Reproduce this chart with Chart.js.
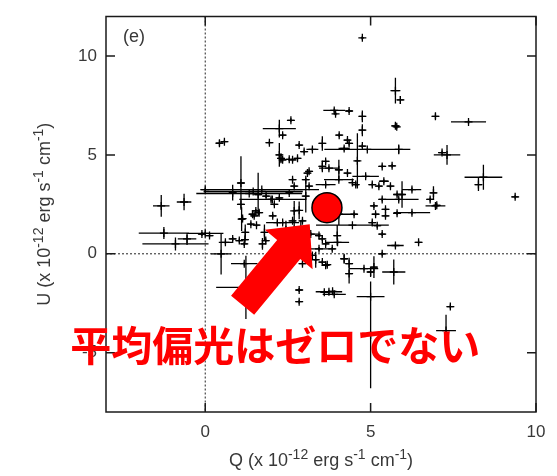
<!DOCTYPE html>
<html>
<head>
<meta charset="utf-8">
<script src="https://cdn.jsdelivr.net/npm/chart.js@4/dist/chart.umd.min.js"></script>
<style>
  html, body { margin: 0; padding: 0; background: #fff; }
  canvas { display: block; }
</style>
</head>
<body>
<canvas id="c" width="557" height="476"></canvas>
<script>
// Stokes Q and U of each observation (units of 1e-12 erg s^-1 cm^-1) and their 1-sigma errors
const qValues = [
  4.75, 5.75, 5.9, 6.96, 7.96, 5.75, 5.79, 3.9, 3.94, 4.35,
  4.75, 4.75, 2.24, 2.59, 2.34, 1.94, 0.43, 0.58, 2.84, 2.24,
  2.34, 2.64, 2.99, 3.24, 3.54, 4.05, 4.3, 4.35, 4.2, 4.75,
  4.9, 5.85, 4.6, 5.35, 5.65, 7.31, 7.16, 8.41, 8.26, 9.37,
  5.4, 5.6, 5.95, 6.25, 5.8, 5.85, 6.9, 6.8, 7.0, 5.45,
  6.25, 5.8, 6.96, -1.33, -0.64, -1.25, -0.9, -0.55, 0.0, 0.13,
  -0.1, 0.48, 0.0, 1.71, 1.33, 1.08, 1.6, 0.83, 1.08, 1.99,
  2.09, 1.53, 1.63, 1.48, 1.13, 2.69, 2.84, 2.29, 2.54, 2.79,
  3.64, 3.74, 4.04, 3.14, 3.09, 3.54, 2.64, 3.04, 4.04, 4.85,
  3.64, 3.14, 2.69, 4.3, 4.45, 4.55, 5.05, 5.25, 5.35, 1.84,
  2.24, 2.54, 3.04, 2.03, 1.43, 2.04, 2.34, 2.64, 2.94, 1.79,
  4.04, 4.5, 3.99, 4.0, 3.54, 3.44, 4.45, 5.05, 5.2, 5.45,
  5.35, 5.35, 5.75, 6.45, 5.1, 5.15, 4.35, 4.8, 5.0, 5.1,
  5.7, 5.0, 5.0, 2.84, 2.84, 3.74, 3.6, 3.85, 3.9, 7.41,
  7.28, 3.54, 3.69, 4.2, 2.94, 2.47, 1.23, 1.18, 0.83, 1.18,
  1.03, 1.73, 1.83, 2.18, 2.44, 2.69, 2.89, 3.19, 3.44, 3.64,
  3.84, 3.24, 3.34, 3.64, 4.35, 0.61, 1.2, 1.21, 1.38, 1.55,
  1.45, 1.1
];
const uValues = [
  10.92, 8.25, 7.78, 6.95, 6.67, 6.47, 6.42, 7.25, 7.08, 7.22,
  6.95, 6.25, 6.33, 6.75, 6.0, 5.62, 5.59, 5.67, 5.5, 5.0,
  4.75, 4.75, 5.17, 5.28, 5.58, 6.0, 5.75, 5.58, 5.33, 5.45,
  5.28, 5.28, 4.7, 4.42, 4.45, 5.0, 5.12, 3.87, 3.5, 2.88,
  3.67, 3.42, 3.0, 3.25, 3.0, 2.75, 3.08, 2.75, 2.45, 2.25,
  2.08, 2.05, 2.42, 2.42, 2.62, 1.05, 0.5, 0.75, 1.03, 0.92,
  1.0, 0.0, 3.25, 3.25, 3.05, 3.58, 3.0, 3.09, 2.5, 2.75,
  2.5, 2.17, 2.08, 1.92, 1.78, 2.17, 2.2, 4.83, 4.78, 4.83,
  4.67, 4.33, 4.25, 4.17, 4.08, 4.42, 3.75, 3.75, 3.75, 3.92,
  3.5, 3.42, 3.42, 4.08, 3.6, 3.5, 3.5, 3.42, 2.75, 2.92,
  2.83, 3.08, 2.92, 2.75, 2.0, 1.92, 1.58, 1.67, 1.67, 1.08,
  2.0, 2.0, 0.92, 0.58, 0.75, 0.25, 1.45, 1.58, 1.42, 1.92,
  1.0, 0.0, 0.42, 0.58, 2.42, 2.0, -1.0, -0.75, -0.92, -0.67,
  -0.92, -2.17, -4.1, -1.83, -2.42, -1.92, -1.95, -1.9, -2.05, -2.67,
  -3.88, -0.42, -0.55, -0.25, -0.5, -0.42, -1.7, -0.5, 0.75, 0.5,
  0.67, 0.5, 0.67, 1.58, 1.22, 1.22, 1.22, 1.0, 0.92, 0.5,
  0.25, -0.08, -0.3, -0.58, -0.5, 0.58, 0.72, 1.08, 1.5, 1.45,
  3.15, 1.75
];
const qErrors = [
  0.05, 0.15, 0.1, 0.1, 0.53, 0.12, 0.08, 0.33, 0.05, 0.1,
  0.1, 0.1, 0.5, 0.1, 0.1, 0.1, 0.1, 0.1, 0.1, 0.1,
  0.1, 0.1, 0.1, 0.18, 0.1, 0.1, 0.1, 0.1, 0.17, 0.1,
  1.3, 0.1, 0.08, 0.1, 0.1, 0.4, 0.1, 0.57, 0.1, 0.1,
  0.15, 0.1, 0.08, 0.28, 0.1, 0.6, 0.1, 0.1, 0.1, 0.1,
  0.55, 0.1, 0.3, 0.25, 0.22, 0.76, 1.0, 0.28, 0.55, 0.1,
  0.1, 0.3, 0.15, 1.73, 1.6, 0.1, 0.1, 0.1, 0.1, 0.35,
  0.1, 0.1, 0.1, 0.1, 0.1, 0.05, 0.05, 0.1, 0.1, 0.1,
  0.1, 0.3, 0.1, 0.1, 0.1, 0.1, 0.1, 0.1, 0.45, 0.4,
  0.3, 0.1, 0.1, 0.1, 0.1, 0.1, 0.1, 0.1, 0.1, 0.1,
  0.1, 0.1, 0.1, 1.0, 0.1, 0.1, 0.5, 0.1, 0.1, 0.1,
  0.35, 0.1, 0.1, 0.35, 0.1, 0.3, 1.1, 0.1, 0.1, 0.1,
  0.1, 0.1, 0.25, 0.1, 0.1, 0.1, 0.1, 0.43, 0.1, 0.1,
  0.35, 0.42, 0.05, 0.1, 0.1, 0.4, 0.1, 0.1, 0.35, 0.1,
  0.3, 0.1, 0.1, 0.1, 0.1, 0.1, 0.9, 0.4, 0.1, 0.1,
  0.1, 0.1, 0.1, 0.1, 0.05, 0.05, 0.05, 0.3, 0.1, 0.1,
  0.1, 0.1, 0.05, 0.1, 0.1, 0.2, 0.1, 0.1, 0.1, 0.1,
  1.5, 0.1
];
const uErrors = [
  0.1, 0.65, 0.2, 0.15, 0.1, 0.12, 0.1, 0.1, 0.1, 0.1,
  0.3, 0.3, 0.45, 0.1, 0.1, 0.1, 0.15, 0.1, 0.1, 0.6,
  0.1, 0.1, 0.1, 0.1, 0.37, 0.1, 0.1, 0.1, 0.1, 0.1,
  0.05, 0.25, 1.4, 0.1, 0.1, 0.5, 0.1, 0.63, 0.33, 0.1,
  0.1, 0.1, 0.67, 0.1, 0.1, 0.1, 0.33, 0.1, 0.1, 0.1,
  0.1, 0.1, 0.1, 0.55, 0.42, 0.3, 0.33, 0.3, 0.1, 0.1,
  0.1, 1.05, 0.1, 0.05, 0.05, 1.35, 1.1, 0.4, 0.1, 0.1,
  0.1, 0.1, 0.1, 0.1, 0.1, 0.5, 0.45, 0.25, 0.1, 0.1,
  0.1, 0.1, 0.5, 0.1, 0.1, 0.3, 0.1, 0.1, 0.1, 0.1,
  0.1, 0.1, 0.1, 0.1, 0.1, 0.1, 0.1, 0.1, 0.1, 0.1,
  0.1, 0.1, 0.83, 0.05, 0.1, 0.1, 0.1, 0.1, 0.1, 0.4,
  0.58, 0.1, 0.5, 0.1, 0.1, 0.1, 0.05, 0.1, 0.1, 0.1,
  0.1, 0.1, 0.1, 0.1, 0.1, 0.1, 0.5, 0.1, 0.25, 0.55,
  0.63, 0.1, 2.7, 0.1, 0.1, 0.1, 0.1, 0.1, 0.1, 0.1,
  0.8, 0.1, 0.1, 0.25, 0.1, 0.1, 1.6, 0.1, 0.1, 0.1,
  0.1, 0.3, 0.1, 0.1, 0.45, 0.45, 0.45, 0.1, 0.1, 0.1,
  0.1, 0.1, 0.4, 0.1, 0.3, 0.1, 0.1, 0.4, 0.1, 0.1,
  0.05, 0.6
];

// Mean polarization of the sample
const meanQ = [3.68];
const meanU = [2.33];

// Axis ranges and ticks
const xRange = [-3, 10];
const yRange = [-8, 12];
const xTickValues = [0, 5, 10];
const yTickValues = [-5, 0, 5, 10];

// Annotation: arrow from tail to tip (Q, U), and the note below it
const arrowTail = [1.13, -2.6];
const arrowTip = [3.16, 1.5];
const noteText = '平均偏光はゼロでない';
const notePos = [2.12, -4.65];
const panelLabel = '(e)';

const xTitleParts = [['Q (x 10', false], ['-12', true], [' erg s', false], ['-1', true], [' cm', false], ['-1', true], [')', false]];
const yTitleParts = [['U (x 10', false], ['-12', true], [' erg s', false], ['-1', true], [' cm', false], ['-1', true], [')', false]];

const FONT = '"Liberation Sans", Arial, Helvetica, sans-serif';
const TEXT_COLOR = '#383838';

function drawRich(ctx, parts, size, supSize, rise) {
  const fontFor = s => (s ? supSize : size) + 'px ' + FONT;
  let total = 0;
  const widths = parts.map(([t, s]) => { ctx.font = fontFor(s); const w = ctx.measureText(t).width; total += w; return w; });
  let xPos = -total / 2;
  ctx.textAlign = 'left';
  ctx.textBaseline = 'alphabetic';
  parts.forEach(([t, s], i) => {
    ctx.font = fontFor(s);
    ctx.fillText(t, xPos, s ? -rise : 0);
    xPos += widths[i];
  });
}

const decorations = {
  id: 'decorations',
  beforeDatasetsDraw(chart) {
    const { ctx, chartArea: a, scales: { x, y } } = chart;
    ctx.save();
    ctx.beginPath();
    ctx.rect(a.left, a.top, a.right - a.left, a.bottom - a.top);
    ctx.clip();
    // dotted zero lines
    ctx.setLineDash([2, 2]);
    ctx.lineWidth = 1;
    ctx.strokeStyle = '#222';
    const x0 = x.getPixelForValue(0), y0 = y.getPixelForValue(0);
    ctx.beginPath();
    ctx.moveTo(x0, a.top); ctx.lineTo(x0, a.bottom);
    ctx.moveTo(a.left, y0); ctx.lineTo(a.right, y0);
    ctx.stroke();
    ctx.setLineDash([]);
    // error bars
    ctx.strokeStyle = '#000';
    ctx.lineWidth = 1.3;
    ctx.beginPath();
    qValues.forEach((q, i) => {
      const u = uValues[i];
      const px = x.getPixelForValue(q), py = y.getPixelForValue(u);
      ctx.moveTo(x.getPixelForValue(q - qErrors[i]), py);
      ctx.lineTo(x.getPixelForValue(q + qErrors[i]), py);
      ctx.moveTo(px, y.getPixelForValue(u - uErrors[i]));
      ctx.lineTo(px, y.getPixelForValue(u + uErrors[i]));
    });
    ctx.stroke();
    ctx.restore();
  },
  afterDatasetsDraw(chart) {
    const { ctx, chartArea: a, scales: { x, y } } = chart;
    ctx.save();
    // frame with inward ticks on all four sides
    ctx.strokeStyle = '#1a1a1a';
    ctx.lineWidth = 1.5;
    ctx.strokeRect(a.left, a.top, a.right - a.left, a.bottom - a.top);
    const tl = 9;
    ctx.beginPath();
    xTickValues.forEach(v => {
      const p = x.getPixelForValue(v);
      ctx.moveTo(p, a.bottom); ctx.lineTo(p, a.bottom - tl);
      ctx.moveTo(p, a.top); ctx.lineTo(p, a.top + tl);
    });
    yTickValues.forEach(v => {
      const p = y.getPixelForValue(v);
      ctx.moveTo(a.left, p); ctx.lineTo(a.left + tl, p);
      ctx.moveTo(a.right, p); ctx.lineTo(a.right - tl, p);
    });
    ctx.stroke();

    // arrow
    const tx = x.getPixelForValue(arrowTail[0]), ty = y.getPixelForValue(arrowTail[1]);
    const hx = x.getPixelForValue(arrowTip[0]), hy = y.getPixelForValue(arrowTip[1]);
    const len = Math.hypot(hx - tx, hy - ty);
    const ux = (hx - tx) / len, uy = (hy - ty) / len;
    const nx = -uy, ny = ux;
    const headLen = 33, headHalf = 31, shaftHalf = 15;
    const bx = hx - ux * headLen, by = hy - uy * headLen;
    ctx.fillStyle = '#ff0000';
    ctx.beginPath();
    ctx.moveTo(tx + nx * shaftHalf, ty + ny * shaftHalf);
    ctx.lineTo(bx + nx * shaftHalf, by + ny * shaftHalf);
    ctx.lineTo(bx + nx * headHalf, by + ny * headHalf);
    ctx.lineTo(hx, hy);
    ctx.lineTo(bx - nx * headHalf, by - ny * headHalf);
    ctx.lineTo(bx - nx * shaftHalf, by - ny * shaftHalf);
    ctx.lineTo(tx - nx * shaftHalf, ty - ny * shaftHalf);
    ctx.closePath();
    ctx.fill();

    // panel label
    ctx.fillStyle = TEXT_COLOR;
    ctx.font = '18px ' + FONT;
    ctx.textAlign = 'left';
    ctx.textBaseline = 'middle';
    ctx.fillText(panelLabel, a.left + 17, a.top + 21);

    // axis titles
    ctx.save();
    ctx.translate((a.left + a.right) / 2, a.bottom + 54);
    drawRich(ctx, xTitleParts, 18, 14, 7);
    ctx.restore();
    ctx.save();
    ctx.translate(a.left - 56, (a.top + a.bottom) / 2);
    ctx.rotate(-Math.PI / 2);
    drawRich(ctx, yTitleParts, 18, 14, 7);
    ctx.restore();

    // note
    ctx.fillStyle = '#ff0000';
    ctx.font = 'bold 41px "Noto Sans CJK JP", "Noto Sans CJK SC", sans-serif';
    ctx.textAlign = 'center';
    ctx.textBaseline = 'middle';
    ctx.fillText(noteText, x.getPixelForValue(notePos[0]), y.getPixelForValue(notePos[1]));
    ctx.restore();
  }
};

new Chart(document.getElementById('c'), {
  type: 'scatter',
  data: {
    datasets: [
      {
        label: 'mean',
        order: 0,
        data: meanQ.map((q, i) => ({ x: q, y: meanU[i] })),
        pointStyle: 'circle',
        pointRadius: 15,
        pointBackgroundColor: '#ff0000',
        pointBorderColor: '#000',
        pointBorderWidth: 1.5
      },
      {
        label: 'observations',
        order: 1,
        data: qValues.map((q, i) => ({ x: q, y: uValues[i] })),
        pointStyle: 'cross',
        pointRadius: 4,
        pointBorderColor: '#000',
        pointBorderWidth: 1.3
      }
    ]
  },
  options: {
    responsive: false,
    animation: false,
    devicePixelRatio: 1,
    layout: { padding: { top: 11, right: 21, left: 0, bottom: 0 } },
    plugins: { legend: { display: false }, tooltip: { enabled: false } },
    events: [],
    scales: {
      x: {
        type: 'linear',
        min: xRange[0], max: xRange[1],
        grid: { display: false, drawTicks: false },
        border: { display: false },
        afterBuildTicks: s => { s.ticks = xTickValues.map(v => ({ value: v })); },
        afterFit: s => { s.height = 64; s.paddingLeft = 0; s.paddingRight = 0; },
        ticks: { padding: 10, color: TEXT_COLOR, font: { family: FONT, size: 17 }, maxRotation: 0, autoSkip: false }
      },
      y: {
        type: 'linear',
        min: yRange[0], max: yRange[1],
        grid: { display: false, drawTicks: false },
        border: { display: false },
        afterBuildTicks: s => { s.ticks = yTickValues.map(v => ({ value: v })); },
        afterFit: s => { s.width = 106; s.paddingTop = 0; s.paddingBottom = 0; },
        ticks: { padding: 9, color: TEXT_COLOR, font: { family: FONT, size: 17 }, autoSkip: false }
      }
    }
  },
  plugins: [decorations]
});
</script>
</body>
</html>
